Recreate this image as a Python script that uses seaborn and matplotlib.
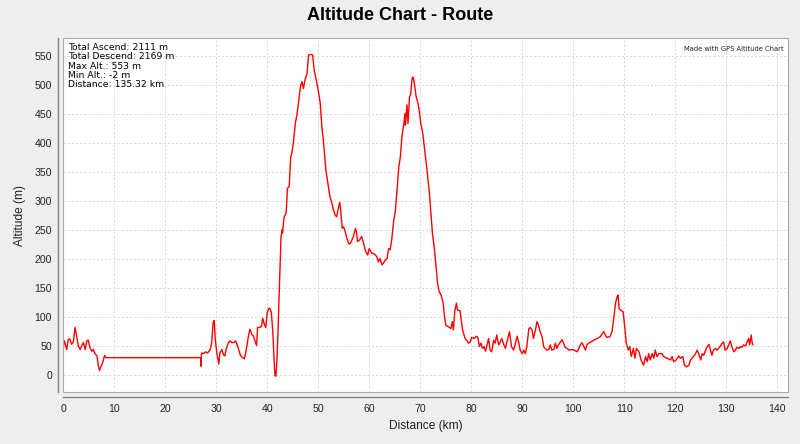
import matplotlib
matplotlib.use("Agg")
import matplotlib.pyplot as plt
from matplotlib.patches import Rectangle
import pandas as pd
import seaborn as sns

# Route profile (km, m)
dist_km = [
    0.0, 0.2, 0.66, 0.99, 1.3, 1.64, 1.97, 2.3, 2.5, 2.95, 3.3, 3.6, 3.94, 4.3, 4.6,
    4.9, 5.25, 5.6, 5.9, 6.2, 6.6, 6.9, 7.1, 7.4, 7.7, 8.1, 8.3,
    27.0, 27.0, 27.1, 27.5, 27.9, 28.3, 28.8, 29.1, 29.4, 29.6, 29.8, 30.1, 30.5, 30.7,
    31.1, 31.4, 31.7, 31.9, 32.4, 32.7, 33.0, 33.5, 33.8, 34.3, 34.7, 35.0, 35.5, 35.7,
    36.0, 36.3, 36.6, 37.0, 37.3, 37.6, 37.9, 38.1, 38.6, 38.9, 39.1, 39.4, 39.7, 40.0,
    40.3, 40.5, 40.8, 41.1, 41.3, 41.5, 41.7, 41.9, 42.1, 42.3, 42.7, 42.9, 43.0, 43.3,
    43.7, 43.96, 44.3, 44.6, 44.8, 45.1, 45.5, 45.8, 46.1, 46.5, 46.8, 47.1, 47.4, 47.8,
    48.1, 48.5, 48.9, 49.2, 49.6, 50.0, 50.4, 50.7, 51.0, 51.5, 51.9, 52.3, 52.7, 53.0,
    53.3, 53.6, 54.0, 54.2, 54.4, 54.7, 54.97, 55.3, 55.6, 56.0, 56.3, 56.6, 56.9, 57.3,
    57.5, 57.7, 58.1, 58.5, 58.9, 59.2, 59.5, 59.7, 60.0, 60.5, 60.8, 61.2, 61.5, 61.8,
    62.1, 62.5, 62.8, 63.1, 63.5, 63.8, 64.1, 64.4, 64.8, 65.1, 65.4, 65.8, 66.1, 66.4,
    66.8, 67.0, 67.1, 67.4, 67.6, 67.9, 68.1, 68.4, 68.6, 68.8, 69.2, 69.5, 69.8, 70.1,
    70.5, 70.8, 71.1, 71.4, 71.8, 72.1, 72.4, 72.8, 73.1, 73.4, 73.7, 74.1, 74.5, 74.7,
    75.0, 75.6, 76.0, 76.3, 76.5, 76.8, 77.1, 77.3, 77.8, 78.3, 78.8, 79.2, 79.5, 79.8,
    80.1, 80.6, 81.0, 81.3, 81.6, 81.9, 82.2, 82.5, 82.8, 83.1, 83.4, 83.7, 84.0, 84.4,
    84.7, 85.0, 85.4, 85.7, 86.0, 86.4, 86.7, 87.0, 87.5, 87.9, 88.3, 88.6, 89.0, 89.3,
    89.6, 90.0, 90.3, 90.6, 90.9, 91.3, 91.6, 91.9, 92.2, 92.6, 92.9, 93.2, 93.5, 93.9,
    94.2, 94.5, 94.8, 95.2, 95.5, 95.8, 96.2, 96.5, 96.8, 97.1, 97.5, 97.8, 98.1, 98.4,
    98.8, 99.2, 99.8, 100.2, 100.8, 101.1, 101.4, 101.7, 102.1, 102.4, 102.7, 103.0,
    103.5, 104.0, 104.7, 105.3, 105.7, 106.0, 106.3, 106.6, 107.2, 107.6, 108.0, 108.3,
    108.6, 108.8, 109.0, 109.3, 109.8, 110.1, 110.4, 110.8, 111.1, 111.4, 111.8, 112.1,
    112.4, 112.9, 113.3, 113.8, 114.2, 114.5, 114.8, 115.1, 115.5, 115.8, 116.1, 116.4,
    116.8, 117.4, 117.7, 118.4, 119.1, 119.4, 119.7, 120.2, 120.7, 121.0, 121.5, 121.8,
    122.2, 122.7, 123.0, 123.3, 123.6, 124.0, 124.3, 124.6, 125.0, 125.3, 125.6, 126.1,
    126.6, 126.9, 127.2, 127.5, 127.9, 128.2, 128.5, 128.8, 129.2, 129.5, 129.8, 130.2,
    130.5, 130.8, 131.1, 131.5, 131.8, 132.1, 132.5, 132.8, 133.1, 133.4, 133.8, 134.1,
    134.4, 134.6, 134.9, 135.1, 135.3,
]
alt_m = [
    50, 59, 44, 62, 62, 53, 57, 82, 73, 50, 44, 50, 56, 44, 59,
    60, 47, 41, 44, 37, 33, 15, 8, 15, 21, 34, 30,
    30, 15, 38, 37, 40, 38, 44, 56, 91, 94, 62, 38, 19, 38,
    44, 35, 33, 44, 56, 59, 56, 56, 59, 47, 35, 31, 28, 35,
    50, 67, 79, 70, 67, 59, 51, 82, 82, 85, 98, 88, 82, 108,
    115, 115, 108, 73, 33, -1, -2, 27, 73, 131, 238, 250, 245, 273,
    279, 322, 325, 376, 382, 399, 434, 448, 468, 497, 506, 494, 509, 520,
    552, 553, 552, 526, 509, 491, 468, 428, 405, 353, 330, 307, 296, 284,
    276, 273, 290, 298, 284, 253, 256, 247, 236, 226, 227, 233, 239, 253,
    247, 230, 233, 239, 227, 216, 210, 207, 218, 210, 210, 207, 204, 195,
    201, 190, 193, 198, 201, 218, 216, 233, 267, 282, 313, 359, 376, 411,
    434, 451, 431, 466, 434, 480, 483, 511, 514, 506, 480, 471, 457, 434,
    417, 394, 371, 348, 313, 279, 244, 216, 187, 158, 144, 138, 124, 106,
    86, 83, 80, 92, 78, 112, 124, 112, 111, 78, 63, 59, 55, 57,
    65, 63, 67, 65, 49, 55, 46, 49, 41, 52, 63, 43, 40, 60,
    55, 69, 52, 57, 63, 52, 46, 57, 75, 49, 43, 52, 67, 57,
    43, 37, 43, 37, 49, 80, 82, 78, 63, 78, 92, 86, 75, 66,
    49, 46, 43, 44, 52, 43, 44, 55, 46, 52, 57, 61, 55, 48,
    46, 43, 44, 43, 40, 46, 52, 56, 49, 43, 52, 55,
    57, 60, 63, 66, 71, 75, 69, 65, 66, 75, 101, 124,
    135, 138, 115, 112, 109, 83, 55, 43, 49, 32, 46, 29,
    46, 40, 26, 17, 32, 23, 37, 26, 37, 29, 43, 32,
    37, 37, 32, 29, 26, 32, 23, 26, 33, 29, 32, 17,
    14, 17, 26, 29, 32, 37, 43, 37, 26, 37, 34, 46,
    53, 44, 34, 43, 46, 43, 46, 49, 55, 57, 43, 46,
    52, 59, 49, 40, 43, 48, 46, 49, 48, 52, 50, 57,
    63, 52, 69, 55, 52,
]

stats_lines = [
    "Total Ascend: 2111 m",
    "Total Descend: 2169 m",
    "Max Alt.: 553 m",
    "Min Alt.: -2 m",
    "Distance: 135.32 km",
]
x_ticks = list(range(0, 150, 10))
y_ticks = list(range(0, 600, 50))

sns.set_style("white")
plt.rcParams["font.family"] = ["Liberation Sans", "DejaVu Sans"]

df = pd.DataFrame({"distance": dist_km, "altitude": alt_m})

fig = plt.figure(figsize=(8, 4.44), dpi=100, facecolor="#EEEEEE")
ax = fig.add_axes([63.3 / 800, (444 - 392.3) / 444, 724.4 / 800, 354 / 444])
ax.set_facecolor("white")

sns.lineplot(data=df, x="distance", y="altitude", sort=False, estimator=None,
             color="#FF0000", linewidth=1.0, ax=ax, zorder=3)

total = max(dist_km)
span = max(alt_m) - min(alt_m)
ax.set_xlim(0, total * 1.05)
ax.set_ylim(min(alt_m) - 0.05 * span, max(alt_m) + 0.05 * span)
ax.set_xticks(x_ticks)
ax.set_yticks(y_ticks)

ax.grid(True, color="#D4D4D4", linestyle=(0, (2.5, 2.5)), linewidth=0.6, zorder=0)

# frame of the plot area plus offset axis lines
for s in ["top", "right"]:
    ax.spines[s].set_visible(False)
for s in ["left", "bottom"]:
    ax.spines[s].set_position(("outward", 3.6))
    ax.spines[s].set_color("#808080")
    ax.spines[s].set_linewidth(1.0)
ax.add_patch(Rectangle((0, 0), 1, 1, transform=ax.transAxes, fill=False,
                       edgecolor="#A8A8A8", linewidth=0.8, clip_on=False, zorder=4))

ax.tick_params(axis="both", direction="out", length=2, width=0.8, color="#808080",
               labelsize=7.6, labelcolor="#222222", pad=2.5)

ax.set_xlabel("Distance (km)", fontsize=8.6, color="#222222", labelpad=5)
ax.set_ylabel("Altitude (m)", fontsize=8.6, color="#222222", labelpad=6)
fig.suptitle("Altitude Chart - Route", fontsize=13, fontweight="bold",
             color="black", y=0.985)

for i, line in enumerate(stats_lines):
    ax.annotate(line, xy=(0, 1), xycoords="axes fraction",
                xytext=(3.6, -3.5 - i * 6.7), textcoords="offset points",
                ha="left", va="top", fontsize=6.7, color="black",
                family="DejaVu Sans")

ax.text(0.995, 0.978, "Made with GPS Altitude Chart", transform=ax.transAxes,
        ha="right", va="top", fontsize=4.9, color="#222222", family="DejaVu Sans")

fig.savefig("out.png", dpi=100, facecolor=fig.get_facecolor())
